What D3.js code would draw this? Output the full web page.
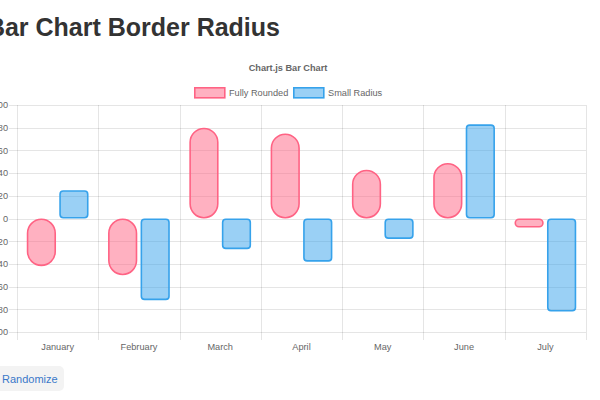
<!DOCTYPE html>
<html><head><meta charset="utf-8">
<script src="https://cdn.jsdelivr.net/npm/d3@7"></script>
<style>
body{margin:0;background:#fff;overflow:hidden}
svg{display:block}
</style></head>
<body>
<svg id="c" width="600" height="400"></svg>
<script>
const categories = ["January","February","March","April","May","June","July"];
const fullyRounded = [-42, -50, 80, 75, 43, 49, -8];
const smallRadius = [25, -72, -27, -38, -18, 83, -82];
const yTicks = [-100,-80,-60,-40,-20,0,20,40,60,80,100];
const seriesNames = ["Fully Rounded","Small Radius"];

(function(){
const svg = d3.select("#c");
const font = "'Liberation Sans', Arial, Helvetica, sans-serif";
const pLeft = 17, pRight = 586, pTop = 105, pBottom = 332;
const fs = 9.2;

svg.append("text").attr("x", 280).attr("y", 36).attr("text-anchor","end")
  .attr("font-family", font).attr("font-weight","bold").attr("font-size", 25)
  .attr("fill","#333").text("Bar Chart Border Radius");

const x = d3.scaleBand().domain(categories).range([pLeft, pRight]);
const y = d3.scaleLinear().domain([-100, 100]).range([pBottom, pTop]);

const g = svg.append("g");
g.selectAll(".hg").data(yTicks).join("line")
  .attr("x1", pLeft-8).attr("x2", pRight).attr("y1", d=>Math.round(y(d))+0.5).attr("y2", d=>Math.round(y(d))+0.5)
  .attr("stroke","rgba(0,0,0,0.1)");
const vlines = categories.map(c=>x(c)).concat([pRight]);
g.selectAll(".vg").data(vlines).join("line")
  .attr("x1", d=>Math.round(d)+0.5).attr("x2", d=>Math.round(d)+0.5)
  .attr("y1", pTop).attr("y2", pBottom+8)
  .attr("stroke","rgba(0,0,0,0.1)");

g.selectAll(".yl").data(yTicks).join("text")
  .attr("x", 8).attr("y", d=>y(d)+3.3).attr("text-anchor","end")
  .attr("font-family", font).attr("font-size", fs).attr("fill","#666").text(d=>d);
g.selectAll(".xl").data(categories).join("text")
  .attr("x", d=>x(d)+x.bandwidth()/2).attr("y", 350).attr("text-anchor","middle")
  .attr("font-family", font).attr("font-size", fs).attr("fill","#666").text(d=>d);

const colors = [{fill:"rgba(255,99,132,0.5)", stroke:"rgb(255,99,132)"},{fill:"rgba(54,162,235,0.5)", stroke:"rgb(54,162,235)"}];
const groupW = x.bandwidth()*0.8, barW = groupW/2*0.9;
const sw = 1.6;
function drawSeries(vals, si, radiusFn){
  svg.append("g").selectAll("rect").data(vals).join("rect")
    .each(function(v,i){
      const cx = x(categories[i]) + x.bandwidth()*0.1 + groupW/2*si + groupW/4;
      const x0 = cx - barW/2;
      const y0 = Math.min(y(0), y(v)), h = Math.abs(y(v)-y(0));
      const r = radiusFn(barW, h);
      d3.select(this).attr("x", x0+sw/2).attr("y", y0+sw/2).attr("width", barW-sw).attr("height", Math.max(0,h-sw))
        .attr("rx", Math.max(0, r-sw/2)).attr("ry", Math.max(0, r-sw/2))
        .attr("fill", colors[si].fill).attr("stroke", colors[si].stroke).attr("stroke-width", sw);
    });
}
drawSeries(fullyRounded, 0, (w,h)=>Math.min(w,h)/2);
drawSeries(smallRadius, 1, (w,h)=>Math.min(4, Math.min(w,h)/2));

svg.append("text").attr("x", 288).attr("y", 71).attr("text-anchor","middle")
  .attr("font-family", font).attr("font-weight","bold").attr("font-size", fs).attr("fill","#666").text("Chart.js Bar Chart");

const lg = svg.append("g");
const legendX = [194, 293];
seriesNames.forEach((n,i)=>{
  lg.append("rect").attr("x", legendX[i]+0.8).attr("y", 87.8).attr("width", 30).attr("height", 10)
    .attr("fill", colors[i].fill).attr("stroke", colors[i].stroke).attr("stroke-width", sw);
  lg.append("text").attr("x", legendX[i]+35).attr("y", 96).attr("font-family", font).attr("font-size", fs)
    .attr("fill","#666").text(n);
});

svg.append("rect").attr("x", -10).attr("y", 366).attr("width", 74).attr("height", 25).attr("rx", 5)
  .attr("fill","#f3f3f3");
svg.append("text").attr("x", 2).attr("y", 383).attr("font-family", font).attr("font-size", 11)
  .attr("fill","#3a78c9").text("Randomize");
})();
</script>
</body></html>
